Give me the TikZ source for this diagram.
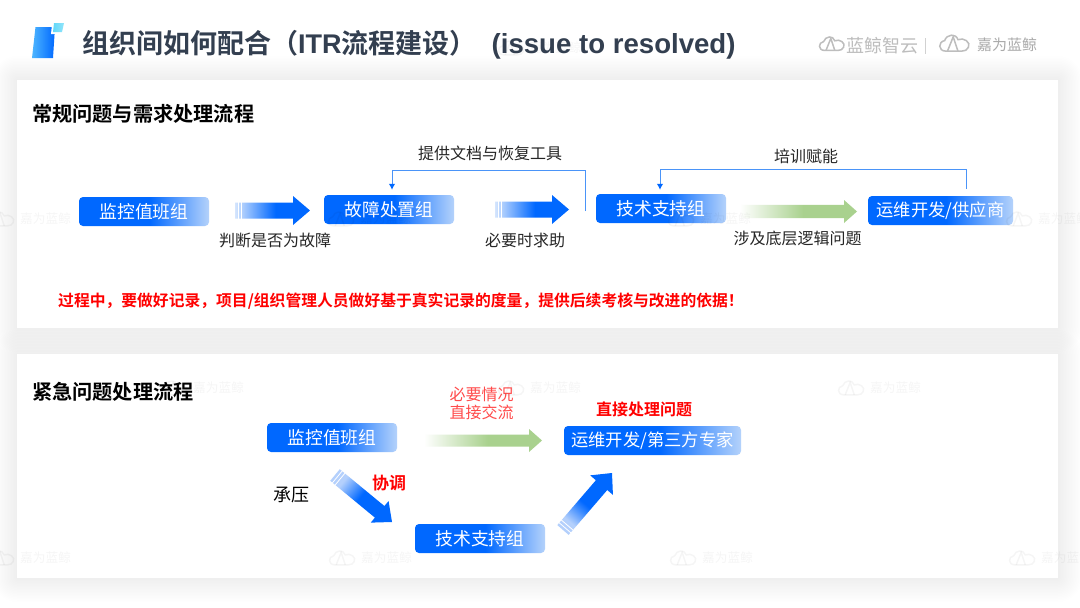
\documentclass[tikz,border=0pt]{standalone}
\usepackage{fontspec}
\usetikzlibrary{calc,arrows.meta}
\setmainfont{Noto Sans CJK SC}
\newfontfamily\cjkbold{Noto Sans CJK SC Bold}[BoldFont={Noto Sans CJK SC Bold}]
\newfontfamily\latbold{Liberation Sans Bold}
\definecolor{mainblue}{HTML}{0068FF}
\definecolor{boxlight}{HTML}{B4D2FB}
\definecolor{arrowlight}{HTML}{D5E5FD}
\definecolor{diaglight}{HTML}{B4D0FC}
\definecolor{linkblue}{HTML}{4A94F8}
\definecolor{greenarrow}{HTML}{A9D18E}
\definecolor{titlecol}{HTML}{333F50}
\definecolor{softred}{HTML}{FF4B4B}
\definecolor{logogray}{HTML}{BDBDBD}
\definecolor{textdark}{HTML}{262626}
\definecolor{iconlight}{HTML}{4DB5FF}
\definecolor{iconcyan}{HTML}{62D8F8}
\pgfdeclarehorizontalshading{boxgrad}{100bp}{color(0bp)=(mainblue);color(25bp)=(mainblue);color(52bp)=(mainblue);color(75bp)=(boxlight);color(100bp)=(boxlight)}
\pgfdeclarehorizontalshading{bluegrad}{100bp}{color(0bp)=(arrowlight);color(25bp)=(arrowlight);color(52bp)=(mainblue);color(75bp)=(mainblue);color(100bp)=(mainblue)}
\pgfdeclarehorizontalshading{diaggrad}{100bp}{color(0bp)=(diaglight);color(30bp)=(diaglight);color(50bp)=(mainblue);color(75bp)=(mainblue);color(100bp)=(mainblue)}
\pgfdeclarehorizontalshading{greengrad}{100bp}{color(0bp)=(white);color(25bp)=(white);color(52bp)=(greenarrow);color(75bp)=(greenarrow);color(100bp)=(greenarrow)}
\tikzset{
  x=1pt,y=-1pt,
  flowbox/.style={rounded corners=4pt,inner sep=0pt,shading=boxgrad,text=white,font=\fontsize{17.8}{18}\selectfont,anchor=center,minimum height=29pt},
  link/.style={draw=linkblue,line width=1pt},
  linktip/.style={-{Latex[length=6pt,width=6.5pt]},mainblue},
  lbl/.style={font=\fontsize{16}{16}\selectfont,text=textdark,inner sep=0pt},
  heading/.style={font=\cjkbold\fontsize{20.2}{20}\selectfont,text=black,inner sep=0pt,anchor=west},
  redbold/.style={font=\cjkbold\fontsize{15.8}{16}\selectfont,text=red,inner sep=0pt},
}
% style, tail, tip, half shaft, half head, head length
\newcommand{\barrow}[6]{%
  \coordinate (hb) at ($(#3)!#6pt!(#2)$);
  \path[#1] ($(#2)!#4pt!90:(#3)$) -- ($(hb)!#4pt!90:(#3)$) -- ($(hb)!#5pt!90:(#3)$) -- (#3)
     -- ($(hb)!#5pt!-90:(#3)$) -- ($(hb)!#4pt!-90:(#3)$) -- ($(#2)!#4pt!-90:(#3)$) -- cycle;}
% tail, tip, half width
\newcommand{\tailstripes}[3]{%
  \foreach \d in {3,6.5}{
    \coordinate (st) at ($(#1)!\d pt!(#2)$);
    \draw[white,line width=.8pt] ($(st)!#3pt!90:(#2)$) -- ($(st)!#3pt!-90:(#2)$);
  }}
\newcommand{\cloudmark}[4]{% x y scale colour
  \begin{scope}[shift={(#1,#2)},scale=#3,draw=#4,line width=1.5pt,fill=none]
    \draw (8,18) .. controls (0,18) and (0,8) .. (7,7) .. controls (9,0) and (19,-1) .. (21,6) .. controls (27,3) and (35,9) .. (32,14) .. controls (31,17) and (28,18) .. (25,18) -- cycle;
    \draw (10,18) -- (16,3) -- (21,18);
  \end{scope}}
\newcommand{\wmark}[3]{% name x y
  \begin{scope}[opacity=.04]
    \cloudmark{#2}{#3}{.82}{black}
    \node[inner sep=0pt,anchor=west,font=\fontsize{12.7}{13}\selectfont,text=black] (#1) at (#2+33,#3+8) {嘉为蓝鲸};
  \end{scope}}
\begin{document}
\begin{tikzpicture}
\useasboundingbox (0,0) rectangle (1080,608);
\fill[white] (0,0) rectangle (1080,608);
% panel shadows
\foreach \i in {1.5,3,...,24}{
  \fill[black,opacity=.004,rounded corners=\i pt] (17-\i,80-\i) rectangle (1058+\i,328+\i);
  \fill[black,opacity=.004,rounded corners=\i pt] (17-\i,354-\i) rectangle (1058+\i,578+\i);
}
\fill[white] (17,80) rectangle (1058,328);
\fill[white] (17,354) rectangle (1058,578);
% title icon
\shade[left color=iconlight,right color=mainblue] (35.5,27) -- (55,27) -- (53,58) -- (32,58) -- cycle;
\fill[white] (52,24) -- (65,24) -- (63,34) -- (51,34) -- cycle;
\shade[left color=iconcyan,right color=iconcyan!70] (54,23) -- (64,23) -- (62,32) -- (53,32) -- cycle;
% watermark under title
\wmark{w0}{497}{40}
% title
\node[inner sep=0pt,anchor=west,text=titlecol,font=\fontsize{27}{27}\selectfont] (title) at (82,45) {\cjkbold 组织间如何配合（{\latbold ITR}流程建设）\hspace{15pt}{\latbold\fontsize{27.6}{28}\selectfont (issue to resolved)}};
% header logos
\cloudmark{818}{36}{.8}{logogray}
\node[inner sep=0pt,anchor=west,text=logogray,font=\fontsize{18}{18}\selectfont] (logoa) at (846,46) {蓝鲸智云};
\draw[logogray!70,line width=.8pt] (925.5,38) -- (925.5,54);
\cloudmark{938}{34}{.95}{logogray}
\node[inner sep=0pt,anchor=west,text=logogray!90!black,font=\fontsize{15}{15}\selectfont] (logob) at (977,45) {嘉为蓝鲸};
% headings
\node[heading] (h1) at (32,114) {常规问题与需求处理流程};
\node[heading] (h2) at (32,392) {紧急问题处理流程};
% first row
\node[flowbox,minimum width=130pt] (mon) at (144,211.5) {监控值班组};
\node[flowbox,minimum width=130pt] (fault) at (389,209.5) {故障处置组};
\node[flowbox,minimum width=130pt] (tech) at (661,208.5) {技术支持组};
\node[flowbox,minimum width=145pt,font=\fontsize{17.3}{18}\selectfont] (ops) at (940.5,210.5) {运维开发/供应商};
\coordinate (a1s) at (235,210.5); \coordinate (a1e) at (310,210.5);
\coordinate (a2s) at (495,209.5); \coordinate (a2e) at (569,209.5);
\coordinate (a3s) at (740,211.5); \coordinate (a3e) at (857,211.5);
\barrow{shading=bluegrad}{a1s}{a1e}{8}{14.5}{17}
\barrow{shading=bluegrad}{a2s}{a2e}{8}{14.5}{17}
\barrow{shading=greengrad}{a3s}{a3e}{6.7}{11.5}{13}
\tailstripes{a1s}{a1e}{9}
\tailstripes{a2s}{a2e}{9}
\node[lbl] (l1) at (275,240) {判断是否为故障};
\node[lbl] (l2) at (525,240) {必要时求助};
\node[lbl] (l3) at (797.5,238) {涉及底层逻辑问题};
\node[lbl] (l4) at (490,153) {提供文档与恢复工具};
\node[lbl] (l5) at (806,156) {培训赋能};
% feedback links
\coordinate (fb1) at (585,211);
\coordinate (fb1top) at (585,170);
\coordinate (fb2top) at (966,169.5);
\draw[link] (fb1) -- (fb1top) -| ([xshift=3pt,yshift=11pt]fault.north);
\draw[link,linktip] ([xshift=3pt,yshift=11pt]fault.north) -- ([xshift=3pt,yshift=5pt]fault.north);
\draw[link] ([xshift=25.5pt,yshift=7pt]ops.north) -- (fb2top) -| ([xshift=-1pt,yshift=10pt]tech.north);
\draw[link,linktip] ([xshift=-1pt,yshift=10pt]tech.north) -- ([xshift=-1pt,yshift=4pt]tech.north);
% note
\node[redbold,anchor=west] (note) at (58,301) {过程中，要做好记录，项目/组织管理人员做好基于真实记录的度量，提供后续考核与改进的依据！};
% second flow
\node[flowbox,minimum width=130pt] (mon2) at (332,437.5) {监控值班组};
\node[flowbox,minimum width=177pt,font=\fontsize{17.3}{18}\selectfont] (ops2) at (652.5,440.5) {运维开发/第三方专家};
\node[flowbox,minimum width=130pt] (tech2) at (480,538.5) {技术支持组};
\coordinate (a4s) at (424,440.5); \coordinate (a4e) at (542,440.5);
\coordinate (a5s) at (335,475); \coordinate (a5e) at (392,522);
\coordinate (a6s) at (563,530); \coordinate (a6e) at (612,473);
\barrow{shading=greengrad}{a4s}{a4e}{6}{11.5}{13}
\barrow{shading=diaggrad,shading angle=-39}{a5s}{a5e}{7.5}{14}{16}
\barrow{shading=diaggrad,shading angle=49}{a6s}{a6e}{7.5}{15}{16}
\tailstripes{a5s}{a5e}{8.5}
\tailstripes{a6s}{a6e}{8.5}
\node[lbl,text=softred,align=center] (l6) at (481.5,403.5) {必要情况\\[2pt]直接交流};
\node[redbold,font=\cjkbold\fontsize{16}{16}\selectfont] (l7) at (644,409) {直接处理问题};
\node[redbold,font=\cjkbold\fontsize{17}{17}\selectfont] (l8) at (389,483) {协调};
\node[lbl,text=black,font=\fontsize{18}{18}\selectfont] (l9) at (291,495) {承压};
% watermarks
\wmark{w1}{-13}{211}
\wmark{w2}{327}{211}
\wmark{w3}{667}{211}
\wmark{w4}{1005}{211}
\wmark{w5}{160}{380}
\wmark{w6}{497}{380}
\wmark{w7}{837}{380}
\wmark{w8}{-13}{550}
\wmark{w9}{328}{550}
\wmark{w10}{669}{550}
\wmark{w11}{1008}{550}
\end{tikzpicture}
\end{document}
